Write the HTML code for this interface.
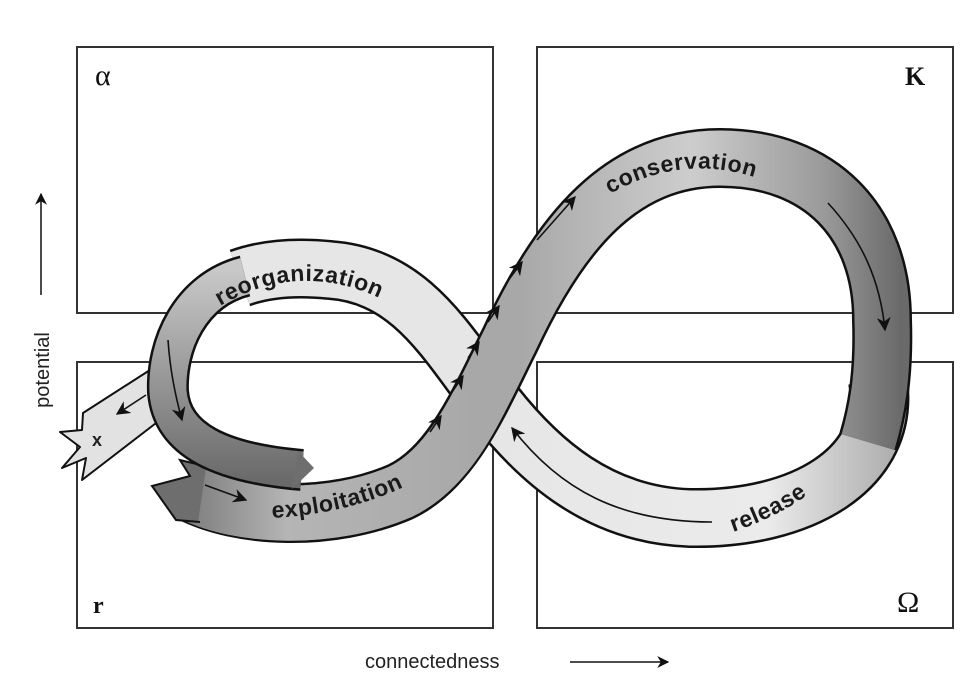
<!DOCTYPE html>
<html><head><meta charset="utf-8"><style>
html,body{margin:0;padding:0;background:#fff}
svg{display:block}
</style></head><body>
<svg width="970" height="678" viewBox="0 0 970 678" xmlns="http://www.w3.org/2000/svg">
<defs>
<marker id="ah" viewBox="0 0 10 10" refX="9" refY="5" markerWidth="12" markerHeight="12" orient="auto" markerUnits="userSpaceOnUse">
<path d="M0,0 L10,5 L0,10 L3,5 z" fill="#111"/></marker>
<marker id="ah2" viewBox="0 0 10 10" refX="9" refY="5" markerWidth="14" markerHeight="14" orient="auto" markerUnits="userSpaceOnUse">
<path d="M0,0 L10,5 L0,10 L3,5 z" fill="#111"/></marker>
<linearGradient id="gc" x1="520" y1="0" x2="900" y2="0" gradientUnits="userSpaceOnUse">
<stop offset="0" stop-color="#a8a8a8"/><stop offset="0.45" stop-color="#cdcdcd"/><stop offset="0.8" stop-color="#9a9a9a"/><stop offset="1" stop-color="#6a6a6a"/></linearGradient>
<linearGradient id="gl" x1="480" y1="0" x2="890" y2="0" gradientUnits="userSpaceOnUse">
<stop offset="0" stop-color="#e6e6e6"/><stop offset="0.7" stop-color="#ebebeb"/><stop offset="1" stop-color="#b0b0b0"/></linearGradient>
<linearGradient id="ge" x1="160" y1="0" x2="480" y2="0" gradientUnits="userSpaceOnUse">
<stop offset="0" stop-color="#6e6e6e"/><stop offset="0.4" stop-color="#b5b5b5"/><stop offset="1" stop-color="#a8a8a8"/></linearGradient>
<linearGradient id="gr" x1="0" y1="270" x2="0" y2="480" gradientUnits="userSpaceOnUse">
<stop offset="0" stop-color="#c8c8c8"/><stop offset="1" stop-color="#6a6a6a"/></linearGradient>
<path id="tc" d="M610,194 Q697,144 790,192"/>
<path id="tr" d="M220,306 Q312,252 408,314"/>
<path id="te" d="M272,518 Q380,512 452,458"/>
<path id="tl" d="M733,532 Q792,512 828,478"/>
</defs>

<g fill="none" stroke="#333" stroke-width="2">
<rect x="77" y="47" width="416" height="266"/>
<rect x="537" y="47" width="416" height="266"/>
<rect x="77" y="362" width="416" height="266"/>
<rect x="537" y="362" width="416" height="266"/>
</g>
<g font-family="Liberation Serif, serif" font-size="30" fill="#111">
<text x="95" y="85">α</text>
<text x="905" y="85" font-weight="bold" font-size="26">K</text>
<text x="93" y="613" font-weight="bold" font-size="24">r</text>
<text x="897" y="612">Ω</text>
</g>
<g font-family="Liberation Sans, sans-serif" font-size="20" fill="#222">
<text transform="translate(49,370) rotate(-90)" text-anchor="middle">potential</text>
<text x="365" y="668">connectedness</text>
</g>
<line x1="41" y1="295" x2="41" y2="194" stroke="#111" stroke-width="1.5" marker-end="url(#ah)"/>
<line x1="570" y1="662" x2="668" y2="662" stroke="#111" stroke-width="1.5" marker-end="url(#ah)"/>

<!-- x tail -->
<polygon points="150,370 160,420 82,480 86,458 62,468 80,447 60,432 82,430 83,413" fill="#e2e2e2" stroke="#111" stroke-width="2" stroke-linejoin="round"/>
<text x="92" y="446" font-family="Liberation Sans, sans-serif" font-weight="bold" font-size="18" fill="#222">x</text>

<!-- light ribbon -->
<path d="M878,380 C892,470 800,520 690,518 C600,515 540,462 495,405 C450,350 415,276 330,270 C290,266 262,270 240,278" fill="none" stroke="#111" stroke-width="60"/>
<path d="M878,380 C892,470 800,520 690,518 C600,515 540,462 495,405 C450,350 415,276 330,270 C290,266 262,270 240,278" fill="none" stroke="url(#gl)" stroke-width="55"/>

<!-- dark ribbon -->
<path d="M190,492 C240,518 330,522 400,492 C452,468 480,400 510,340 C560,232 622,158 720,158 C820,158 882,222 882,320 C884,378 876,415 868,442" fill="none" stroke="#111" stroke-width="60"/>
<path d="M190,492 C240,518 330,522 400,492 C452,468 480,400 510,340 C560,232 622,158 720,158 C820,158 882,222 882,320 C884,378 876,415 868,442" fill="none" stroke="url(#gc)" stroke-width="55"/>
<path d="M192,494 C240,518 330,522 400,492 C440,473 465,430 480,400" fill="none" stroke="url(#ge)" stroke-width="55"/>
<!-- jagged start -->
<polygon points="207,466 180,460 190,476 152,486 176,520 198,522 206,468" fill="#6e6e6e"/>
<polyline points="205,466 180,460 190,476 152,486 176,520 200,522" fill="none" stroke="#111" stroke-width="2" stroke-linejoin="miter"/>

<!-- left loop -->
<path d="M245,276 C190,290 166,345 168,392 C172,440 220,463 302,470" fill="none" stroke="#111" stroke-width="42"/>
<path d="M245,276 C190,290 166,345 168,392 C172,440 220,463 302,470" fill="none" stroke="url(#gr)" stroke-width="37"/>
<polygon points="298,451 314,468 292,489" fill="#6e6e6e"/>

<!-- flow arrows -->
<g stroke="#111" stroke-width="1.6" fill="none">
<line x1="430" y1="432" x2="441" y2="416" marker-end="url(#ah2)"/>
<line x1="452" y1="392" x2="463" y2="376" marker-end="url(#ah2)"/>
<line x1="468" y1="358" x2="479" y2="342" marker-end="url(#ah2)"/>
<line x1="488" y1="322" x2="499" y2="306" marker-end="url(#ah2)"/>
<line x1="510" y1="278" x2="522" y2="262" marker-end="url(#ah2)"/>
<line x1="537" y1="240" x2="575" y2="197" marker-end="url(#ah2)"/>
<path d="M828,203 C862,240 880,280 885,330" marker-end="url(#ah2)"/>
<path d="M712,522 C620,522 560,490 512,428" marker-end="url(#ah2)"/>
<path d="M168,340 C170,370 175,395 182,420" marker-end="url(#ah2)"/>
<line x1="205" y1="485" x2="246" y2="500" marker-end="url(#ah2)"/>
<line x1="146" y1="395" x2="117" y2="414" marker-end="url(#ah2)"/>
</g>

<g font-family="Liberation Sans, sans-serif" font-weight="bold" font-size="23" fill="#1a1a1a" letter-spacing="0.6">
<text><textPath href="#tc">conservation</textPath></text>
<text><textPath href="#tr">reorganization</textPath></text>
<text><textPath href="#te">exploitation</textPath></text>
<text><textPath href="#tl">release</textPath></text>
</g>
</svg>
</body></html>
